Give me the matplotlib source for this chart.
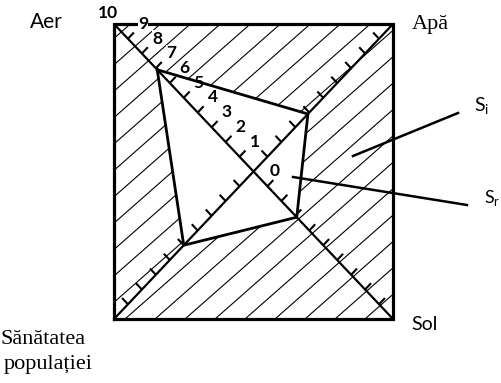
import numpy as np
import matplotlib
matplotlib.use("Agg")
import matplotlib.pyplot as plt

# axis names (corners of the square) and the values on each half-diagonal
axes_names = ["Aer", "Apă", "Sol", "Sănătatea populației"]
values = [6.9, 3.9, 3.1, 5.0]          # Aer, Apa, Sol, Sanatatea
scale_labels = [0, 1, 2, 3, 4, 5, 6, 7, 8, 9, 10]

W, H = 502, 383
L, R, T, B = 114, 393, 24, 319   # square in pixels

plt.rcParams['mathtext.fontset'] = 'custom'
plt.rcParams['mathtext.rm'] = 'Lato'

fig = plt.figure(figsize=(W / 100, H / 100), dpi=100)
ax = fig.add_axes([L / W, 1 - B / H, (R - L) / W, (B - T) / H])
ax.set_xlim(-10, 10)
ax.set_ylim(-10, 10)
ax.axis('off')

def fx(x):
    return x / W

def fy(y):
    return 1 - y / H

# corner directions: Aer (up-left), Apa (up-right), Sol (down-right), Sanatatea (down-left)
dirs = np.array([[-1, 1], [1, 1], [1, -1], [-1, -1]], dtype=float)

# hatching over the whole square (quadrilateral gets painted white later)
slope = 0.88 * (R - L) / (B - T)
for x0 in np.arange(-9.21 - 2.15 * 12, 12, 2.15):
    xs = np.array([x0, x0 + 30])
    ax.plot(xs, -10 + slope * (xs - x0), color='black', lw=0.8, zorder=1)

# white quadrilateral S_r
quad = dirs * np.array(values)[:, None]
ax.fill(quad[:, 0], quad[:, 1], color='white', zorder=2)

# diagonals
ax.plot([-10, 10], [10, -10], color='black', lw=1.6, zorder=3)
ax.plot([-10, 10], [-10, 10], color='black', lw=1.6, zorder=3)

# ticks on every half-diagonal
tick_len = 0.6
tick_side = np.array([[1, 1], [-1, 1], [1, 1], [-1, 1]], dtype=float) / np.sqrt(2)
for d, s in zip(dirs, tick_side):
    for k in range(1, 10):
        p = d * k
        q = p + s * tick_len
        ax.plot([p[0], q[0]], [p[1], q[1]], color='black', lw=1.5, zorder=3,
                solid_capstyle='butt')

# quadrilateral outline
qq = np.vstack([quad, quad[:1]])
ax.plot(qq[:, 0], qq[:, 1], color='black', lw=2.0, zorder=4)

# square border
ax.plot([-10, 10, 10, -10, -10], [-10, -10, 10, 10, -10], color='black',
        lw=2.3, zorder=5, clip_on=False, solid_joinstyle='miter')

# scale numbers along the Aer diagonal
for k in scale_labels:
    if k == 10:
        off = (-6, -11)
    elif k == 0:
        off = (21, 0)
    else:
        off = (15, -15)
    px = (L + R) / 2 + (L - (L + R) / 2) * k / 10 + off[0]
    py = (T + B) / 2 + (T - (T + B) / 2) * k / 10 + off[1]
    fig.text(fx(px), fy(py), str(k), fontsize=12.5, fontweight='bold',
             family='Lato', ha='center', va='center', zorder=6,
             bbox=dict(facecolor='white', edgecolor='none', pad=0.1) if k in (9, 8, 7) else None)

# corner labels
fig.text(fx(46), fy(22), axes_names[0], fontsize=15, family='Lato',
         ha='center', va='center')
fig.text(fx(430), fy(25), axes_names[1], fontsize=16, family='Liberation Serif',
         ha='center', va='center')
fig.text(fx(425), fy(324), axes_names[2], fontsize=14, family='Lato',
         ha='center', va='center')
fig.text(fx(1), fy(339), "Sănătatea", fontsize=16, family='Liberation Serif',
         ha='left', va='center')
fig.text(fx(4), fy(364), "populației", fontsize=16, family='Liberation Serif',
         ha='left', va='center')

# S_i and S_r leaders
fig.add_artist(plt.Line2D([fx(353), fx(458)], [fy(156), fy(113)], color='black', lw=1.8))
fig.add_artist(plt.Line2D([fx(293), fx(467)], [fy(177), fy(205)], color='black', lw=1.8))
fig.text(fx(474), fy(106), r"S$_{\rm i}$", fontsize=14, family='Lato',
         ha='left', va='center')
fig.text(fx(484), fy(198), r"S$_{\rm r}$", fontsize=13, family='Lato',
         ha='left', va='center')

fig.savefig("out.png", dpi=100)
